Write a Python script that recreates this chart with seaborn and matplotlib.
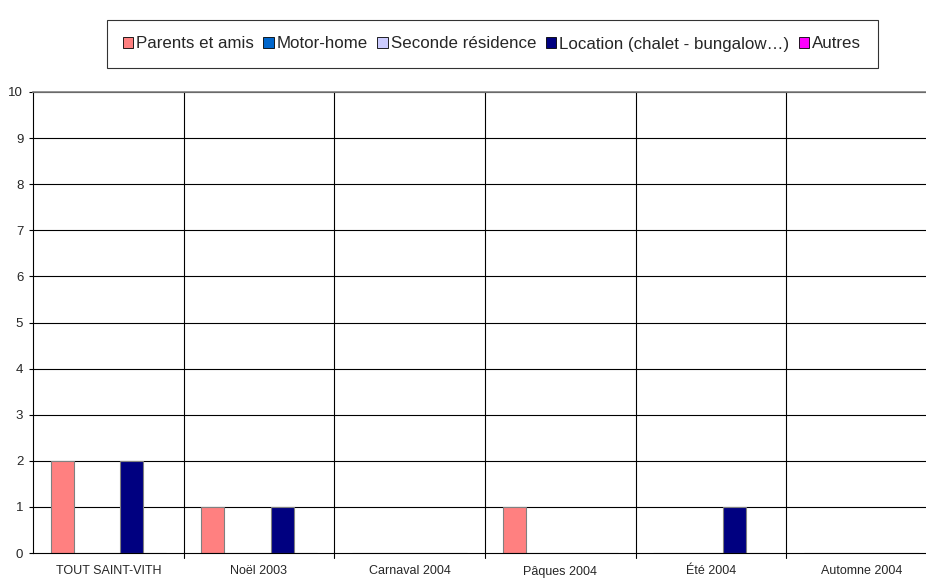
import numpy as np
import pandas as pd
import matplotlib
matplotlib.use("Agg")
import matplotlib.pyplot as plt
from matplotlib.patches import Patch
import seaborn as sns

# categories and series
periods = ["TOUT SAINT-VITH", "Noël 2003", "Carnaval 2004", "Pâques 2004", "Été 2004", "Automne 2004"]
series = ["Parents et amis", "Motor-home", "Seconde résidence",
          "Location (chalet - bungalow…)", "Autres"]
parents = [2, 1, 0, 1, 0, 0]
motorhome = [0, 0, 0, 0, 0, 0]
seconde = [0, 0, 0, 0, 0, 0]
location = [2, 1, 0, 0, 1, 0]
autres = [0, 0, 0, 0, 0, 0]
colors = ["#FF8080", "#0066CC", "#CCCCFF", "#000080", "#FF00FF"]
yticks = list(range(0, 11))

# long format for seaborn
rows = []
for name, vals in zip(series, [parents, motorhome, seconde, location, autres]):
    for p, v in zip(periods, vals):
        rows.append({"period": p, "serie": name, "n": v})
df = pd.DataFrame(rows)

sns.set_style("white")
plt.rcParams["font.family"] = ["Liberation Sans", "DejaVu Sans"]

fig = plt.figure(figsize=(9.26, 5.79), dpi=100)
# plot area runs a bit past the right edge, as in the reference
ax = fig.add_axes([33 / 926, 26 / 579, 904 / 926, 461 / 579])

sns.barplot(data=df, x="period", y="n", hue="serie", hue_order=series,
            order=periods, palette=colors, saturation=1, width=0.765, ax=ax,
            edgecolor="#808080", linewidth=0.8, legend=False, errorbar=None)

ax.set_xlim(-0.5, len(periods) - 0.5)
ax.set_ylim(0, 10)
ax.set_yticks(yticks)
ax.set_yticklabels([str(t) for t in yticks], fontsize=9.5)
ax.set_xticks(np.arange(len(periods)))
ax.set_xticklabels(periods, fontsize=9)
ax.set_xlabel("")
ax.set_ylabel("")

# horizontal gridlines and category separators
for t in yticks[1:]:
    ax.axhline(t, color="black", linewidth=0.8, zorder=0)
for b in np.arange(0.5, len(periods) - 0.5, 1):
    ax.axvline(b, color="black", linewidth=0.8, zorder=0)
    ax.plot([b, b], [0, -0.1], color="black", linewidth=0.8, clip_on=False)

ax.tick_params(axis="x", length=0, pad=9)
ax.tick_params(axis="y", length=3, width=0.8, color="black", left=True, pad=4)
for s in ["left", "bottom"]:
    ax.spines[s].set_color("black")
    ax.spines[s].set_linewidth(0.8)
ax.spines["top"].set_color("#808080")
ax.spines["top"].set_linewidth(1.2)
ax.spines["right"].set_visible(False)

handles = [Patch(facecolor=c, edgecolor="black", linewidth=0.6) for c in colors]
leg = fig.legend(handles, series, loc="center", ncol=5,
                 bbox_to_anchor=(492 / 926, 1 - 44 / 579), fontsize=12.2,
                 frameon=True, fancybox=False, edgecolor="black",
                 handlelength=0.6, handleheight=0.6, handletextpad=0.2,
                 columnspacing=0.55, borderpad=0.95, borderaxespad=0)
leg.get_frame().set_linewidth(0.8)

fig.savefig("out.png", dpi=100)
